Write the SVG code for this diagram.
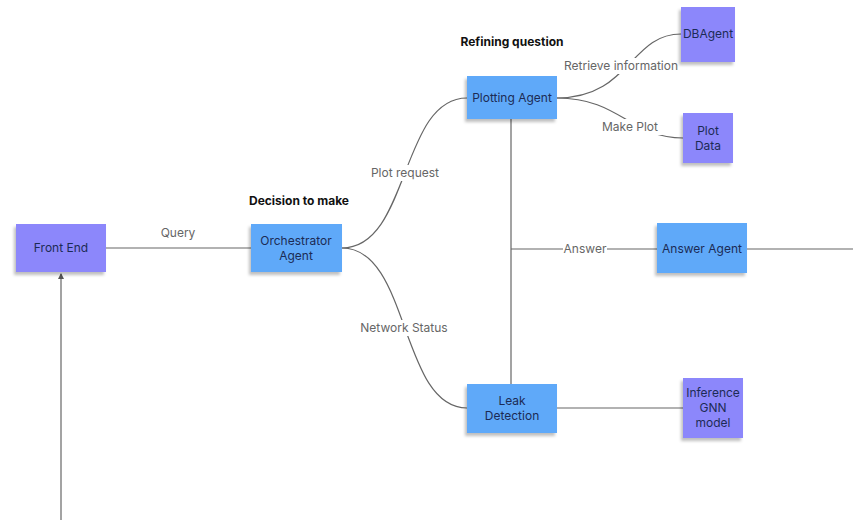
<svg xmlns="http://www.w3.org/2000/svg" width="853" height="521" viewBox="0 0 853 521">
<defs>
<filter id="sh" x="-20%" y="-20%" width="140%" height="150%">
<feDropShadow dx="-2" dy="3" stdDeviation="1.5" flood-color="#000" flood-opacity="0.25"/>
</filter>
<marker id="ah" viewBox="0 0 6 6" refX="5" refY="3" markerWidth="5" markerHeight="5" orient="auto">
<path d="M0,0 L6,3 L0,6 z" fill="#555"/>
</marker>
</defs>
<style>
.blue{fill:#5fa9f9;filter:url(#sh)}
.purple{fill:#8c87fb;filter:url(#sh)}
.nt{font-family:"Inter","Liberation Sans",sans-serif;font-size:12px;fill:#1c2b55;text-anchor:middle}
.lbl{font-family:"Inter","Liberation Sans",sans-serif;font-size:12px;fill:#666;text-anchor:middle}
.hd{font-family:"Inter","Liberation Sans",sans-serif;font-size:12px;font-weight:bold;fill:#111;text-anchor:middle}
.ln{fill:none;stroke:#666;stroke-width:1.2}
</style>
<rect width="853" height="521" fill="#fff"/>
<g id="connectors">
<path class="ln" d="M106,248 L251,248"/>
<path class="ln" d="M342,248 C410,248 400,98 467,98"/>
<path class="ln" d="M342,248 C410,248 400,408 467,408"/>
<path class="ln" d="M557,98 C630,98 630,34 681,34"/>
<path class="ln" d="M557,98 C620,98 630,138 683,138"/>
<path class="ln" d="M511,119 L511,384"/>
<path class="ln" d="M511,249 L657,249"/>
<path class="ln" d="M747,249 L853,249"/>
<path class="ln" d="M557,408 L683,408"/>
<path class="ln" d="M61,520 L61,274" marker-end="url(#ah)"/>
<rect x="152" y="225" width="52" height="16" fill="#fff"/>
<text class="lbl" x="178" y="237">Query</text>
<rect x="366" y="165" width="78" height="16" fill="#fff"/>
<text class="lbl" x="405" y="177">Plot request</text>
<rect x="356" y="320" width="96" height="16" fill="#fff"/>
<text class="lbl" x="404" y="332">Network Status</text>
<rect x="560" y="58" width="122" height="16" fill="#fff"/>
<text class="lbl" x="621" y="70">Retrieve information</text>
<rect x="598" y="119" width="64" height="16" fill="#fff"/>
<text class="lbl" x="630" y="131">Make Plot</text>
<rect x="563" y="241" width="44" height="16" fill="#fff"/>
<text class="lbl" x="585" y="253">Answer</text>
</g>
<text class="hd" x="299" y="205">Decision to make</text>
<text class="hd" x="512" y="46">Refining question</text>
<g id="front-end">
<rect class="purple" x="16" y="224" width="90" height="48"/>
<text class="nt" x="61" y="252">Front End</text>
</g>
<g id="orchestrator">
<rect class="blue" x="251" y="224" width="91" height="48"/>
<text class="nt" x="296" y="245">Orchestrator</text>
<text class="nt" x="296" y="260">Agent</text>
</g>
<g id="plotting-agent">
<rect class="blue" x="467" y="76" width="90" height="43"/>
<text class="nt" x="512" y="102">Plotting Agent</text>
</g>
<g id="dbagent">
<rect class="purple" x="681" y="7" width="54" height="55"/>
<text class="nt" x="708" y="38">DBAgent</text>
</g>
<g id="plot-data">
<rect class="purple" x="683" y="113" width="50" height="50"/>
<text class="nt" x="708" y="135">Plot</text>
<text class="nt" x="708" y="150">Data</text>
</g>
<g id="answer-agent">
<rect class="blue" x="657" y="223" width="90" height="50"/>
<text class="nt" x="702" y="253">Answer Agent</text>
</g>
<g id="leak-detection">
<rect class="blue" x="467" y="384" width="90" height="49"/>
<text class="nt" x="512" y="405">Leak</text>
<text class="nt" x="512" y="420">Detection</text>
</g>
<g id="inference">
<rect class="purple" x="683" y="378" width="60" height="60"/>
<text class="nt" x="713" y="397">Inference</text>
<text class="nt" x="713" y="412">GNN</text>
<text class="nt" x="713" y="427">model</text>
</g>
</svg>
